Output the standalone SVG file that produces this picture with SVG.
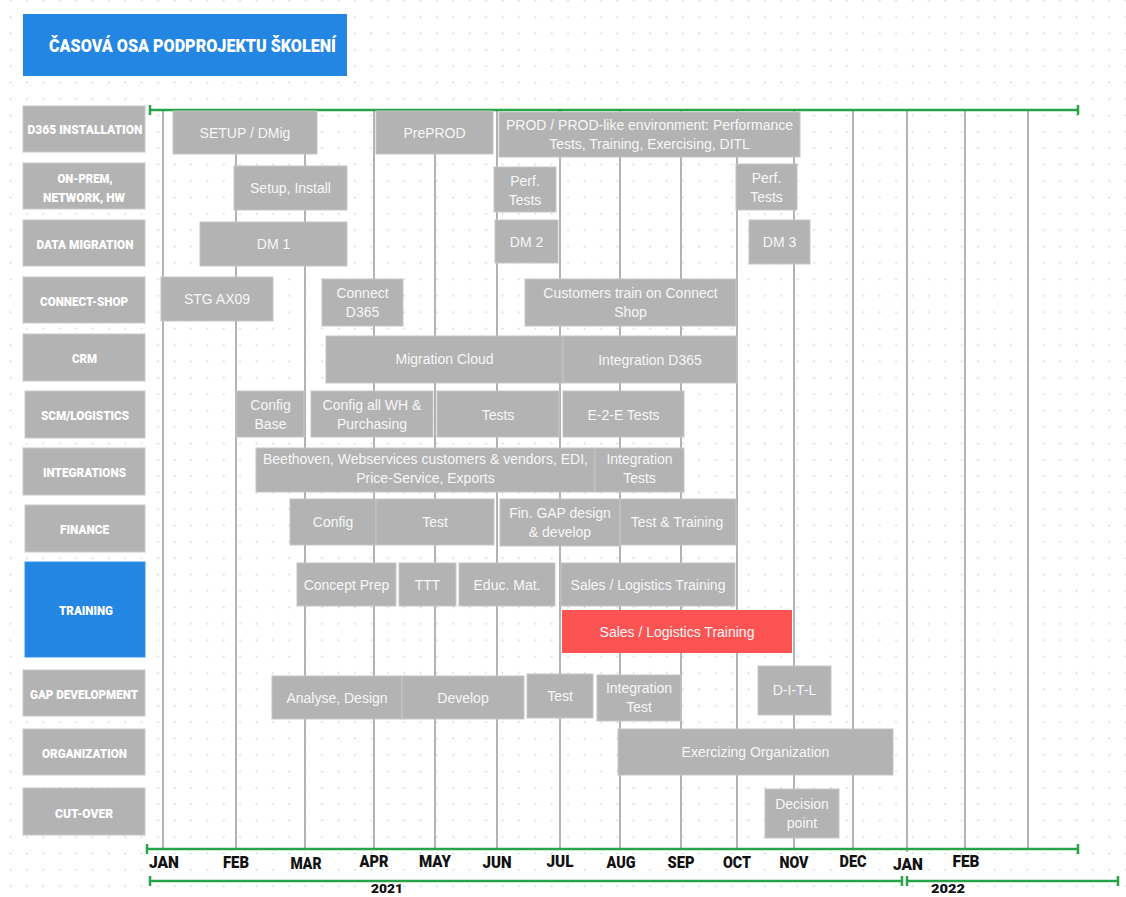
<svg xmlns="http://www.w3.org/2000/svg" width="1126" height="897" viewBox="0 0 1126 897">
  <defs>
    <pattern id="dotgrid" x="2.3" y="-7.6" width="16.4" height="16.4" patternUnits="userSpaceOnUse">
      <circle cx="8.2" cy="8.2" r="1" fill="#d6d6d6"/>
    </pattern>
    <style>
      .lane { fill: #b3b3b3; stroke: #c9c9c9; stroke-width: 1; }
      .lane-active { fill: #2386e2; stroke: #3a93e6; stroke-width: 1; }
      .task { fill: #b3b3b3; stroke: #c6c6c6; stroke-width: 1; }
      .task-hot { fill: #fd5353; }
      .lbl { font-family: "Roboto", "Inter", "DejaVu Sans", sans-serif; font-weight: 900; font-size: 12.5px; fill: #ffffff; text-anchor: middle; }
      .txt { font-family: "Liberation Sans", Arial, sans-serif; font-size: 14px; fill: #f7f7f7; text-anchor: middle; }
      .month { font-family: "Roboto", "Inter", "DejaVu Sans", sans-serif; font-weight: 900; font-size: 17px; fill: #111111; text-anchor: middle; }
      .year { font-family: "Roboto", "Inter", "DejaVu Sans", sans-serif; font-weight: 900; font-size: 13px; fill: #111111; text-anchor: middle; }
      .title { font-family: "Roboto", "Inter", "DejaVu Sans", sans-serif; font-weight: 900; font-size: 18px; fill: #ffffff; }
      .grid { stroke: #b3b3b3; stroke-width: 2; fill: none; }
      .axis { stroke: #27a348; stroke-width: 2.5; fill: none; }
    </style>
  </defs>

  <!-- page background with dotted grid -->
  <rect width="1126" height="897" fill="#ffffff"/>
  <rect width="1126" height="897" fill="url(#dotgrid)"/>

  <!-- title banner -->
  <g id="title">
    <rect x="23" y="14" width="324" height="62" fill="#2386e2"/>
    <text class="title" x="49" y="51.5" textLength="287" lengthAdjust="spacingAndGlyphs">ČASOVÁ OSA PODPROJEKTU ŠKOLENÍ</text>
  </g>

  <!-- month gridlines and time axes -->
  <g id="connectors">
    <g class="grid">
      <line x1="163" y1="110" x2="163" y2="850"/>
      <line x1="236" y1="110" x2="236" y2="850"/>
      <line x1="305" y1="110" x2="305" y2="850"/>
      <line x1="374" y1="110" x2="374" y2="850"/>
      <line x1="435" y1="110" x2="435" y2="850"/>
      <line x1="497" y1="110" x2="497" y2="850"/>
      <line x1="560" y1="110" x2="560" y2="850"/>
      <line x1="620" y1="110" x2="620" y2="850"/>
      <line x1="681" y1="110" x2="681" y2="850"/>
      <line x1="737" y1="110" x2="737" y2="850"/>
      <line x1="794" y1="110" x2="794" y2="850"/>
      <line x1="853" y1="110" x2="853" y2="850"/>
      <line x1="907" y1="110" x2="907" y2="852"/>
      <line x1="965" y1="110" x2="965" y2="850"/>
      <line x1="1028" y1="110" x2="1028" y2="850"/>
    </g>
    <g class="axis">
      <!-- top axis -->
      <line x1="150" y1="110" x2="1078" y2="110"/>
      <line x1="150" y1="105" x2="150" y2="115"/>
      <line x1="1078" y1="105" x2="1078" y2="115"/>
      <!-- bottom month axis -->
      <line x1="147" y1="849" x2="1078" y2="849"/>
      <line x1="147" y1="844" x2="147" y2="854"/>
      <line x1="1078" y1="844" x2="1078" y2="854"/>
      <!-- year spans -->
      <line x1="150" y1="881" x2="902" y2="881"/>
      <line x1="150" y1="876" x2="150" y2="886"/>
      <line x1="902" y1="876" x2="902" y2="886"/>
      <line x1="907" y1="881" x2="1118" y2="881"/>
      <line x1="907" y1="876" x2="907" y2="886"/>
      <line x1="1118" y1="876" x2="1118" y2="886"/>
    </g>
  </g>

  <!-- month and year labels -->
  <g id="axis-labels">
    <text class="month" x="164" y="868" textLength="30" lengthAdjust="spacingAndGlyphs">JAN</text>
    <text class="month" x="236" y="868" textLength="26" lengthAdjust="spacingAndGlyphs">FEB</text>
    <text class="month" x="306" y="869" textLength="31" lengthAdjust="spacingAndGlyphs">MAR</text>
    <text class="month" x="374" y="867" textLength="29" lengthAdjust="spacingAndGlyphs">APR</text>
    <text class="month" x="435" y="867" textLength="32" lengthAdjust="spacingAndGlyphs">MAY</text>
    <text class="month" x="497" y="868" textLength="29" lengthAdjust="spacingAndGlyphs">JUN</text>
    <text class="month" x="560" y="867" textLength="27" lengthAdjust="spacingAndGlyphs">JUL</text>
    <text class="month" x="621" y="868" textLength="29" lengthAdjust="spacingAndGlyphs">AUG</text>
    <text class="month" x="681" y="868" textLength="27" lengthAdjust="spacingAndGlyphs">SEP</text>
    <text class="month" x="737" y="868" textLength="28" lengthAdjust="spacingAndGlyphs">OCT</text>
    <text class="month" x="794" y="868" textLength="29" lengthAdjust="spacingAndGlyphs">NOV</text>
    <text class="month" x="853" y="867" textLength="27" lengthAdjust="spacingAndGlyphs">DEC</text>
    <text class="month" x="908" y="870" textLength="30" lengthAdjust="spacingAndGlyphs">JAN</text>
    <text class="month" x="966" y="867" textLength="27" lengthAdjust="spacingAndGlyphs">FEB</text>
    <text class="year" x="387" y="893" textLength="32" lengthAdjust="spacingAndGlyphs">2021</text>
    <text class="year" x="948" y="893" textLength="34" lengthAdjust="spacingAndGlyphs">2022</text>
  </g>

  <!-- swimlane headers -->
  <g id="lane-d365"><rect class="lane" x="23" y="106" width="122" height="46"/><text class="lbl" x="85" y="133.5" textLength="115" lengthAdjust="spacingAndGlyphs">D365 INSTALLATION</text></g>
  <g id="lane-onprem"><rect class="lane" x="23" y="163" width="122" height="46"/><text class="lbl" x="85" y="182.5" textLength="55" lengthAdjust="spacingAndGlyphs">ON-PREM,</text><text class="lbl" x="84" y="201.5" textLength="82" lengthAdjust="spacingAndGlyphs">NETWORK, HW</text></g>
  <g id="lane-datamig"><rect class="lane" x="23" y="220" width="122" height="46"/><text class="lbl" x="85" y="248.5" textLength="97" lengthAdjust="spacingAndGlyphs">DATA MIGRATION</text></g>
  <g id="lane-connect"><rect class="lane" x="23" y="277" width="122" height="46"/><text class="lbl" x="84" y="305.5" textLength="88" lengthAdjust="spacingAndGlyphs">CONNECT-SHOP</text></g>
  <g id="lane-crm"><rect class="lane" x="23" y="334" width="122" height="47"/><text class="lbl" x="84.5" y="362.5" textLength="25" lengthAdjust="spacingAndGlyphs">CRM</text></g>
  <g id="lane-scm"><rect class="lane" x="25" y="391" width="120" height="47"/><text class="lbl" x="85" y="419.5" textLength="88" lengthAdjust="spacingAndGlyphs">SCM/LOGISTICS</text></g>
  <g id="lane-integrations"><rect class="lane" x="23" y="448" width="122" height="47"/><text class="lbl" x="84.5" y="476.5" textLength="83" lengthAdjust="spacingAndGlyphs">INTEGRATIONS</text></g>
  <g id="lane-finance"><rect class="lane" x="25" y="505" width="120" height="47"/><text class="lbl" x="84.5" y="533.5" textLength="49" lengthAdjust="spacingAndGlyphs">FINANCE</text></g>
  <g id="lane-training"><rect class="lane-active" x="25" y="562" width="120" height="95"/><text class="lbl" x="86" y="614.5" textLength="54" lengthAdjust="spacingAndGlyphs">TRAINING</text></g>
  <g id="lane-gap"><rect class="lane" x="23" y="670" width="122" height="46"/><text class="lbl" x="84" y="698.5" textLength="108" lengthAdjust="spacingAndGlyphs">GAP DEVELOPMENT</text></g>
  <g id="lane-org"><rect class="lane" x="23" y="729" width="122" height="46"/><text class="lbl" x="84.5" y="757.5" textLength="85" lengthAdjust="spacingAndGlyphs">ORGANIZATION</text></g>
  <g id="lane-cutover"><rect class="lane" x="23" y="788" width="122" height="47"/><text class="lbl" x="84" y="817.5" textLength="58" lengthAdjust="spacingAndGlyphs">CUT-OVER</text></g>

  <!-- D365 installation -->
  <g id="task-setup-dmig"><rect class="task" x="173" y="111" width="144" height="43"/><text class="txt" x="245" y="138">SETUP / DMig</text></g>
  <g id="task-preprod"><rect class="task" x="376" y="111" width="117" height="43"/><text class="txt" x="434.5" y="138">PrePROD</text></g>
  <g id="task-prod"><rect class="task" x="499" y="112" width="301" height="45"/><text class="txt" x="649.5" y="130">PROD / PROD-like environment: Performance</text><text class="txt" x="649.5" y="149">Tests, Training, Exercising, DITL</text></g>

  <!-- on-prem, network, hw -->
  <g id="task-setup-install"><rect class="task" x="234" y="166" width="113" height="44"/><text class="txt" x="290.5" y="193">Setup, Install</text></g>
  <g id="task-perf-1"><rect class="task" x="494" y="167" width="62" height="45"/><text class="txt" x="525" y="186">Perf.</text><text class="txt" x="525" y="205">Tests</text></g>
  <g id="task-perf-2"><rect class="task" x="736" y="164" width="61" height="46"/><text class="txt" x="766.5" y="183">Perf.</text><text class="txt" x="766.5" y="202">Tests</text></g>

  <!-- data migration -->
  <g id="task-dm1"><rect class="task" x="200" y="222" width="147" height="44"/><text class="txt" x="273.5" y="249">DM 1</text></g>
  <g id="task-dm2"><rect class="task" x="495" y="220" width="63" height="43"/><text class="txt" x="526.5" y="247">DM 2</text></g>
  <g id="task-dm3"><rect class="task" x="749" y="220" width="61" height="44"/><text class="txt" x="779.5" y="247">DM 3</text></g>

  <!-- connect-shop -->
  <g id="task-stg"><rect class="task" x="161" y="277" width="112" height="44"/><text class="txt" x="217" y="304">STG AX09</text></g>
  <g id="task-connect-d365"><rect class="task" x="322" y="279" width="81" height="47"/><text class="txt" x="362.5" y="298">Connect</text><text class="txt" x="362.5" y="317">D365</text></g>
  <g id="task-customers-train"><rect class="task" x="525" y="279" width="211" height="47"/><text class="txt" x="630.5" y="298">Customers train on Connect</text><text class="txt" x="630.5" y="317">Shop</text></g>

  <!-- crm -->
  <g id="task-migration-cloud"><rect class="task" x="326" y="336" width="237" height="47"/><text class="txt" x="444.5" y="364">Migration Cloud</text></g>
  <g id="task-integration-d365"><rect class="task" x="563" y="336" width="174" height="47"/><text class="txt" x="650" y="365">Integration D365</text></g>

  <!-- scm / logistics -->
  <g id="task-config-base"><rect class="task" x="236" y="391" width="68" height="46"/><text class="txt" x="270.5" y="410">Config</text><text class="txt" x="270.5" y="429">Base</text></g>
  <g id="task-config-wh"><rect class="task" x="311" y="391" width="122" height="46"/><text class="txt" x="372" y="410">Config all WH &amp;</text><text class="txt" x="372" y="429">Purchasing</text></g>
  <g id="task-scm-tests"><rect class="task" x="437" y="391" width="122" height="46"/><text class="txt" x="498" y="420">Tests</text></g>
  <g id="task-e2e"><rect class="task" x="563" y="391" width="121" height="46"/><text class="txt" x="623.5" y="420">E-2-E Tests</text></g>

  <!-- integrations -->
  <g id="task-beethoven"><rect class="task" x="256" y="448" width="339" height="44"/><text class="txt" x="425.5" y="464">Beethoven, Webservices customers &amp; vendors, EDI,</text><text class="txt" x="425.5" y="483">Price-Service, Exports</text></g>
  <g id="task-integration-tests"><rect class="task" x="595" y="448" width="89" height="44"/><text class="txt" x="639.5" y="464">Integration</text><text class="txt" x="639.5" y="483">Tests</text></g>

  <!-- finance -->
  <g id="task-fin-config"><rect class="task" x="290" y="499" width="86" height="46"/><text class="txt" x="333" y="527">Config</text></g>
  <g id="task-fin-test"><rect class="task" x="376" y="499" width="118" height="46"/><text class="txt" x="435" y="527">Test</text></g>
  <g id="task-fin-gap"><rect class="task" x="500" y="499" width="120" height="47"/><text class="txt" x="560" y="518">Fin. GAP design</text><text class="txt" x="560" y="537">&amp; develop</text></g>
  <g id="task-fin-training"><rect class="task" x="620" y="499" width="116" height="46"/><text class="txt" x="677" y="527">Test &amp; Training</text></g>

  <!-- training -->
  <g id="task-concept-prep"><rect class="task" x="297" y="563" width="99" height="43"/><text class="txt" x="346.5" y="590">Concept Prep</text></g>
  <g id="task-ttt"><rect class="task" x="399" y="563" width="57" height="43"/><text class="txt" x="427.5" y="590">TTT</text></g>
  <g id="task-educ"><rect class="task" x="459" y="563" width="96" height="43"/><text class="txt" x="507" y="590">Educ. Mat.</text></g>
  <g id="task-sales-training"><rect class="task" x="561" y="563" width="174" height="43"/><text class="txt" x="648" y="590">Sales / Logistics Training</text></g>
  <g id="task-sales-training-hot"><rect class="task-hot" x="562" y="610" width="230" height="43"/><text class="txt" x="677" y="637">Sales / Logistics Training</text></g>

  <!-- gap development -->
  <g id="task-analyse"><rect class="task" x="272" y="676" width="130" height="43"/><text class="txt" x="337" y="703">Analyse, Design</text></g>
  <g id="task-develop"><rect class="task" x="402" y="676" width="122" height="43"/><text class="txt" x="463" y="703">Develop</text></g>
  <g id="task-gap-test"><rect class="task" x="527" y="674" width="66" height="44"/><text class="txt" x="560" y="701">Test</text></g>
  <g id="task-gap-integration"><rect class="task" x="597" y="675" width="84" height="46"/><text class="txt" x="639" y="693">Integration</text><text class="txt" x="639" y="712">Test</text></g>
  <g id="task-ditl"><rect class="task" x="758" y="666" width="73" height="49"/><text class="txt" x="794.5" y="695">D-I-T-L</text></g>

  <!-- organization -->
  <g id="task-exercizing"><rect class="task" x="618" y="729" width="275" height="46"/><text class="txt" x="755.5" y="757">Exercizing Organization</text></g>

  <!-- cut-over -->
  <g id="task-decision"><rect class="task" x="765" y="789" width="74" height="49"/><text class="txt" x="802" y="809">Decision</text><text class="txt" x="802" y="828">point</text></g>
</svg>
